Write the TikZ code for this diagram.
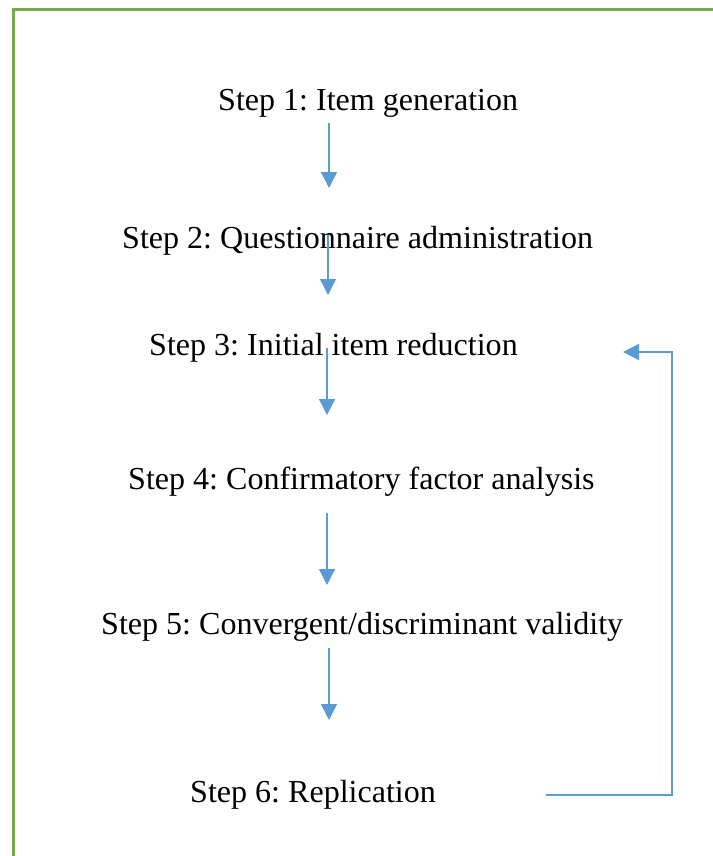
\documentclass[tikz,border=0pt]{standalone}
\usepackage{fontspec}
\setmainfont{Liberation Serif}
\usetikzlibrary{arrows.meta}
\definecolor{frameGreen}{HTML}{70AD47}
\definecolor{flowBlue}{HTML}{5B9BD5}
\frenchspacing
\begin{document}
\begin{tikzpicture}[x=1pt,y=-1pt,
  steplabel/.style={anchor=base west,inner sep=0pt,font=\fontsize{32.05}{38}\selectfont},
  flow/.style={draw=flowBlue,line width=1.3pt,-{Triangle[length=16pt,width=16pt]}}]
\useasboundingbox (0,0) rectangle (712,856);
% open frame: left and top edges only
\draw[frameGreen,line width=3pt] (13.5,870) -- (13.5,10) -- (725,10);

% step labels
\node[steplabel] (s1) at (218,111) {Step 1: Item generation};
\node[steplabel] (s2) at (122,248) {Step 2: Questionnaire administration};
\node[steplabel] (s3) at (149,355) {Step 3: Initial item reduction};
\node[steplabel] (s4) at (128,489) {Step 4: Confirmatory factor analysis};
\node[steplabel] (s5) at (101,634) {Step 5: Convergent/discriminant validity};
\node[steplabel] (s6) at (190,802) {Step 6: Replication};

% arrow end points
\coordinate (a1s) at (329,123); \coordinate (a1e) at (329,188);
\coordinate (a2s) at (328,235); \coordinate (a2e) at (328,295);
\coordinate (a3s) at (327,348); \coordinate (a3e) at (327,415);
\coordinate (a4s) at (327,513); \coordinate (a4e) at (327,585);
\coordinate (a5s) at (329,648); \coordinate (a5e) at (329,720);
\coordinate (fbs) at (546,795); \coordinate (fbc1) at (672,795);
\coordinate (fbc2) at (672,352); \coordinate (fbe) at (623,352);

% forward arrows
\draw[flow] (a1s) -- (a1e);
\draw[flow] (a2s) -- (a2e);
\draw[flow] (a3s) -- (a3e);
\draw[flow] (a4s) -- (a4e);
\draw[flow] (a5s) -- (a5e);
% feedback loop from replication back to item reduction
\draw[flow] (fbs) -- (fbc1) -- (fbc2) -- (fbe);
\end{tikzpicture}
\end{document}
